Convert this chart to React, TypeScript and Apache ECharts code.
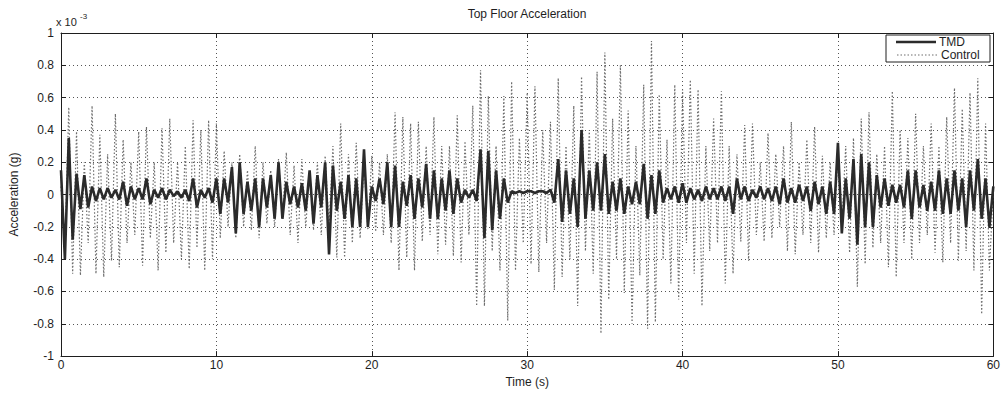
import React, { useEffect, useRef } from "react";
import * as echarts from "echarts";

// Sampling step of the recorded signals (seconds)
const sampleStep = 0.25;

// Axis tick settings
const xMin = 0;
const xMax = 60;
const xInterval = 10;
const yMin = -1;
const yMax = 1;
const yInterval = 0.2;

const chartTitle = "Top Floor Acceleration";
const xAxisName = "Time (s)";
const yAxisName = "Acceleration (g)";
const seriesNames = ["TMD", "Control"];

// Top floor acceleration with TMD (x 10^-3 g), one row per second
const tmdValues = [
  0.15, -0.4, 0.35, -0.28,
  0.13, -0.09, 0.12, -0.08,
  0.05, -0.04, 0.04, -0.03,
  0.04, -0.02, 0.03, -0.03,
  0.08, -0.07, 0.05, -0.03,
  0.04, -0.03, 0.1, -0.06,
  0.03, -0.02, 0.04, -0.03,
  0.03, -0.01, 0.02, -0.02,
  0.03, -0.04, 0.1, -0.08,
  0.03, -0.02, 0.04, -0.05,
  0.1, -0.12, 0.1, -0.05,
  0.17, -0.24, 0.2, -0.12,
  0.08, -0.1, 0.1, -0.2,
  0.1, -0.08, 0.12, -0.15,
  0.2, -0.15, 0.08, -0.06,
  0.05, -0.08, 0.07, -0.1,
  0.15, -0.18, 0.12, -0.08,
  0.2, -0.37, 0.18, -0.1,
  0.08, -0.15, 0.12, -0.2,
  0.1, -0.2, 0.28, -0.2,
  0.05, -0.04, 0.1, -0.06,
  0.2, -0.2, 0.18, -0.2,
  0.08, -0.07, 0.12, -0.15,
  0.1, -0.08, 0.19, -0.15,
  0.15, -0.15, 0.1, -0.1,
  0.15, -0.12, 0.1, -0.05,
  0.03, -0.02, 0.03, -0.04,
  0.28, -0.27, 0.27, -0.22,
  0.15, -0.15, 0.1, -0.05,
  0.02, 0.01, 0.02, 0.01,
  0.02, 0.02, 0.01, 0.02,
  0.02, 0.01, 0.03, -0.05,
  0.22, -0.17, 0.15, -0.12,
  0.1, -0.2, 0.4, -0.15,
  0.15, -0.1, 0.2, -0.1,
  0.25, -0.12, 0.08, -0.1,
  0.1, -0.12, 0.05, -0.06,
  0.08, -0.06, 0.19, -0.15,
  0.12, -0.12, 0.15, -0.05,
  0.04, -0.03, 0.05, -0.05,
  0.07, -0.05, 0.04, -0.03,
  0.03, -0.04, 0.05, -0.03,
  0.04, -0.03, 0.05, -0.04,
  0.05, -0.12, 0.1, -0.03,
  0.05, -0.04, 0.03, -0.02,
  0.05, -0.03, 0.04, -0.04,
  0.05, -0.06, 0.1, -0.05,
  0.04, -0.05, 0.06, -0.04,
  0.05, -0.1, 0.08, -0.06,
  0.05, -0.12, 0.08, -0.12,
  0.32, -0.24, 0.1, -0.15,
  0.22, -0.31, 0.25, -0.2,
  0.2, -0.2, 0.12, -0.08,
  0.1, -0.07, 0.06, -0.05,
  0.06, -0.08, 0.15, -0.15,
  0.15, -0.08, 0.06, -0.1,
  0.08, -0.1, 0.15, -0.12,
  0.1, -0.12, 0.15, -0.1,
  0.1, -0.2, 0.15, -0.1,
  0.22, -0.15, 0.1, -0.2,
  0.05,
];

// Top floor acceleration without TMD (control), one row per second
const controlValues = [
  0.05, -0.35, 0.54, -0.49,
  0.39, -0.5, 0.2, -0.3,
  0.55, -0.49, 0.37, -0.51,
  0.25, -0.41, 0.5, -0.45,
  0.34, -0.3, 0.2, -0.25,
  0.39, -0.44, 0.42, -0.27,
  0.2, -0.47, 0.41, -0.36,
  0.47, -0.3, 0.2, -0.4,
  0.3, -0.46, 0.46, -0.33,
  0.4, -0.47, 0.46, -0.4,
  0.44, -0.27, 0.27, -0.2,
  0.2, -0.27, 0.25, -0.2,
  0.15, -0.22, 0.3, -0.27,
  0.2, -0.18, 0.15, -0.2,
  0.22, -0.15, 0.26, -0.25,
  0.18, -0.3, 0.22, -0.2,
  0.15, -0.22, 0.2, -0.25,
  0.24, -0.2, 0.3, -0.39,
  0.44, -0.39, 0.25, -0.3,
  0.32, -0.27, 0.2, -0.22,
  0.24, -0.23, 0.2, -0.25,
  0.25, -0.3, 0.51, -0.47,
  0.48, -0.39, 0.44, -0.47,
  0.45, -0.29, 0.3, -0.25,
  0.48, -0.37, 0.3, -0.31,
  0.3, -0.38, 0.49, -0.42,
  0.33, -0.25, 0.55, -0.69,
  0.77, -0.69, 0.61, -0.35,
  0.3, -0.47, 0.61, -0.78,
  0.7, -0.47, 0.35, -0.3,
  0.63, -0.43, 0.67, -0.48,
  0.4, -0.3, 0.45, -0.59,
  0.72, -0.51, 0.3, -0.4,
  0.55, -0.69, 0.73, -0.35,
  0.4, -0.49, 0.76, -0.86,
  0.88, -0.65, 0.47, -0.4,
  0.8, -0.61, 0.52, -0.8,
  0.3, -0.5, 0.68, -0.83,
  0.95, -0.79, 0.62, -0.4,
  0.34, -0.55, 0.68, -0.65,
  0.65, -0.3, 0.71, -0.49,
  0.65, -0.69, 0.3, -0.35,
  0.47, -0.3, 0.64, -0.55,
  0.3, -0.49, 0.25, -0.29,
  0.43, -0.41, 0.44, -0.25,
  0.2, -0.29, 0.38, -0.27,
  0.25, -0.2, 0.3, -0.35,
  0.45, -0.37, 0.2, -0.25,
  0.34, -0.3, 0.42, -0.36,
  0.24, -0.27, 0.2, -0.25,
  0.26, -0.2, 0.3, -0.36,
  0.35, -0.57, 0.47, -0.43,
  0.51, -0.33, 0.25, -0.3,
  0.3, -0.45, 0.64, -0.51,
  0.4, -0.3, 0.35, -0.4,
  0.5, -0.3, 0.3, -0.25,
  0.44, -0.36, 0.3, -0.42,
  0.48, -0.3, 0.66, -0.41,
  0.53, -0.35, 0.63, -0.47,
  0.72, -0.74, 0.44, -0.47,
  0.05,
];

const FONT = "'Liberation Sans', Arial, Helvetica, sans-serif";
const INK = "#1e1e1e";
const TMD_COLOR = "#2b2b2b";
const CONTROL_COLOR = "#6e6e6e";
const CONTROL_DASH = [1.5, 2];

export default function App() {
  const ref = useRef<HTMLDivElement>(null);

  useEffect(() => {
    if (!ref.current) return;
    const chart = echarts.init(ref.current, null, { renderer: "svg" });
    const toPairs = (vals: number[]) => vals.map((v, i) => [i * sampleStep, v]);

    const frameAxisCommon = {
      axisLine: { show: true, onZero: false, lineStyle: { color: INK, width: 1 } },
      axisTick: { show: true, inside: true, length: 5, lineStyle: { color: INK } },
    };

    const legendBox = { x: 886, y: 35, w: 104, h: 27 };

    chart.setOption({
      animation: false,
      backgroundColor: "#ffffff",
      textStyle: { fontFamily: FONT },
      grid: { left: 58, right: 8, top: 33, bottom: 33 },
      legend: { show: false, data: seriesNames },
      xAxis: [
        {
          type: "value",
          min: xMin,
          max: xMax,
          interval: xInterval,
          position: "bottom",
          ...frameAxisCommon,
          axisLabel: { show: true, color: INK, fontSize: 12, margin: 3, fontFamily: FONT },
          splitLine: { show: true, lineStyle: { color: "#555", width: 1, type: [1, 3] } },
          name: xAxisName,
          nameLocation: "middle",
          nameGap: 17,
          nameTextStyle: { fontSize: 12, color: INK, fontFamily: FONT },
        },
        {
          type: "value",
          min: xMin,
          max: xMax,
          interval: xInterval,
          position: "top",
          ...frameAxisCommon,
          axisLabel: { show: false },
          splitLine: { show: false },
        },
      ],
      yAxis: [
        {
          type: "value",
          min: yMin,
          max: yMax,
          interval: yInterval,
          position: "left",
          ...frameAxisCommon,
          axisLabel: { show: true, color: INK, fontSize: 12, margin: 7, fontFamily: FONT },
          splitLine: { show: true, lineStyle: { color: "#555", width: 1, type: [1, 3] } },
          name: yAxisName,
          nameLocation: "middle",
          nameGap: 41,
          nameRotate: 90,
          nameTextStyle: { fontSize: 12, color: INK, fontFamily: FONT },
        },
        {
          type: "value",
          min: yMin,
          max: yMax,
          interval: yInterval,
          position: "right",
          ...frameAxisCommon,
          axisLabel: { show: false },
          splitLine: { show: false },
        },
      ],
      series: [
        {
          name: seriesNames[1],
          type: "line",
          xAxisIndex: 0,
          yAxisIndex: 0,
          data: toPairs(controlValues),
          showSymbol: false,
          symbol: "none",
          z: 2,
          lineStyle: { color: CONTROL_COLOR, width: 1.2, type: CONTROL_DASH },
          itemStyle: { color: CONTROL_COLOR },
        },
        {
          name: seriesNames[0],
          type: "line",
          xAxisIndex: 0,
          yAxisIndex: 0,
          data: toPairs(tmdValues),
          showSymbol: false,
          symbol: "none",
          z: 3,
          lineStyle: { color: TMD_COLOR, width: 2.6 },
          itemStyle: { color: TMD_COLOR },
        },
      ],
      graphic: [
        {
          type: "text",
          x: 527,
          y: 14,
          style: {
            text: chartTitle,
            fill: INK,
            fontSize: 12,
            fontFamily: FONT,
            align: "center",
            verticalAlign: "middle",
          },
        },
        {
          type: "text",
          x: 56,
          y: 22,
          style: {
            text: "x 10",
            fill: INK,
            fontSize: 11,
            fontFamily: FONT,
            align: "left",
            verticalAlign: "middle",
          },
        },
        {
          type: "text",
          x: 80,
          y: 16,
          style: {
            text: "-3",
            fill: INK,
            fontSize: 8,
            fontFamily: FONT,
            align: "left",
            verticalAlign: "middle",
          },
        },
        // Legend box (drawn by hand to get plain line samples like MATLAB)
        {
          type: "rect",
          z: 100,
          shape: { x: legendBox.x, y: legendBox.y, width: legendBox.w, height: legendBox.h },
          style: { fill: "#ffffff", stroke: INK, lineWidth: 1 },
        },
        {
          type: "line",
          z: 101,
          shape: { x1: 896, y1: 42, x2: 936, y2: 42 },
          style: { stroke: TMD_COLOR, lineWidth: 2.6 },
        },
        {
          type: "text",
          z: 101,
          x: 939,
          y: 42,
          style: {
            text: seriesNames[0],
            fill: INK,
            fontSize: 12,
            fontFamily: FONT,
            align: "left",
            verticalAlign: "middle",
          },
        },
        {
          type: "line",
          z: 101,
          shape: { x1: 897, y1: 55, x2: 938, y2: 55 },
          style: { stroke: CONTROL_COLOR, lineWidth: 1.2, lineDash: CONTROL_DASH },
        },
        {
          type: "text",
          z: 101,
          x: 941,
          y: 55,
          style: {
            text: seriesNames[1],
            fill: INK,
            fontSize: 12,
            fontFamily: FONT,
            align: "left",
            verticalAlign: "middle",
          },
        },
      ],
    });

    return () => chart.dispose();
  }, []);

  return (
    <div
      ref={ref}
      style={{ position: "fixed", left: 0, top: 0, width: 1003, height: 393, background: "#fff" }}
    />
  );
}
